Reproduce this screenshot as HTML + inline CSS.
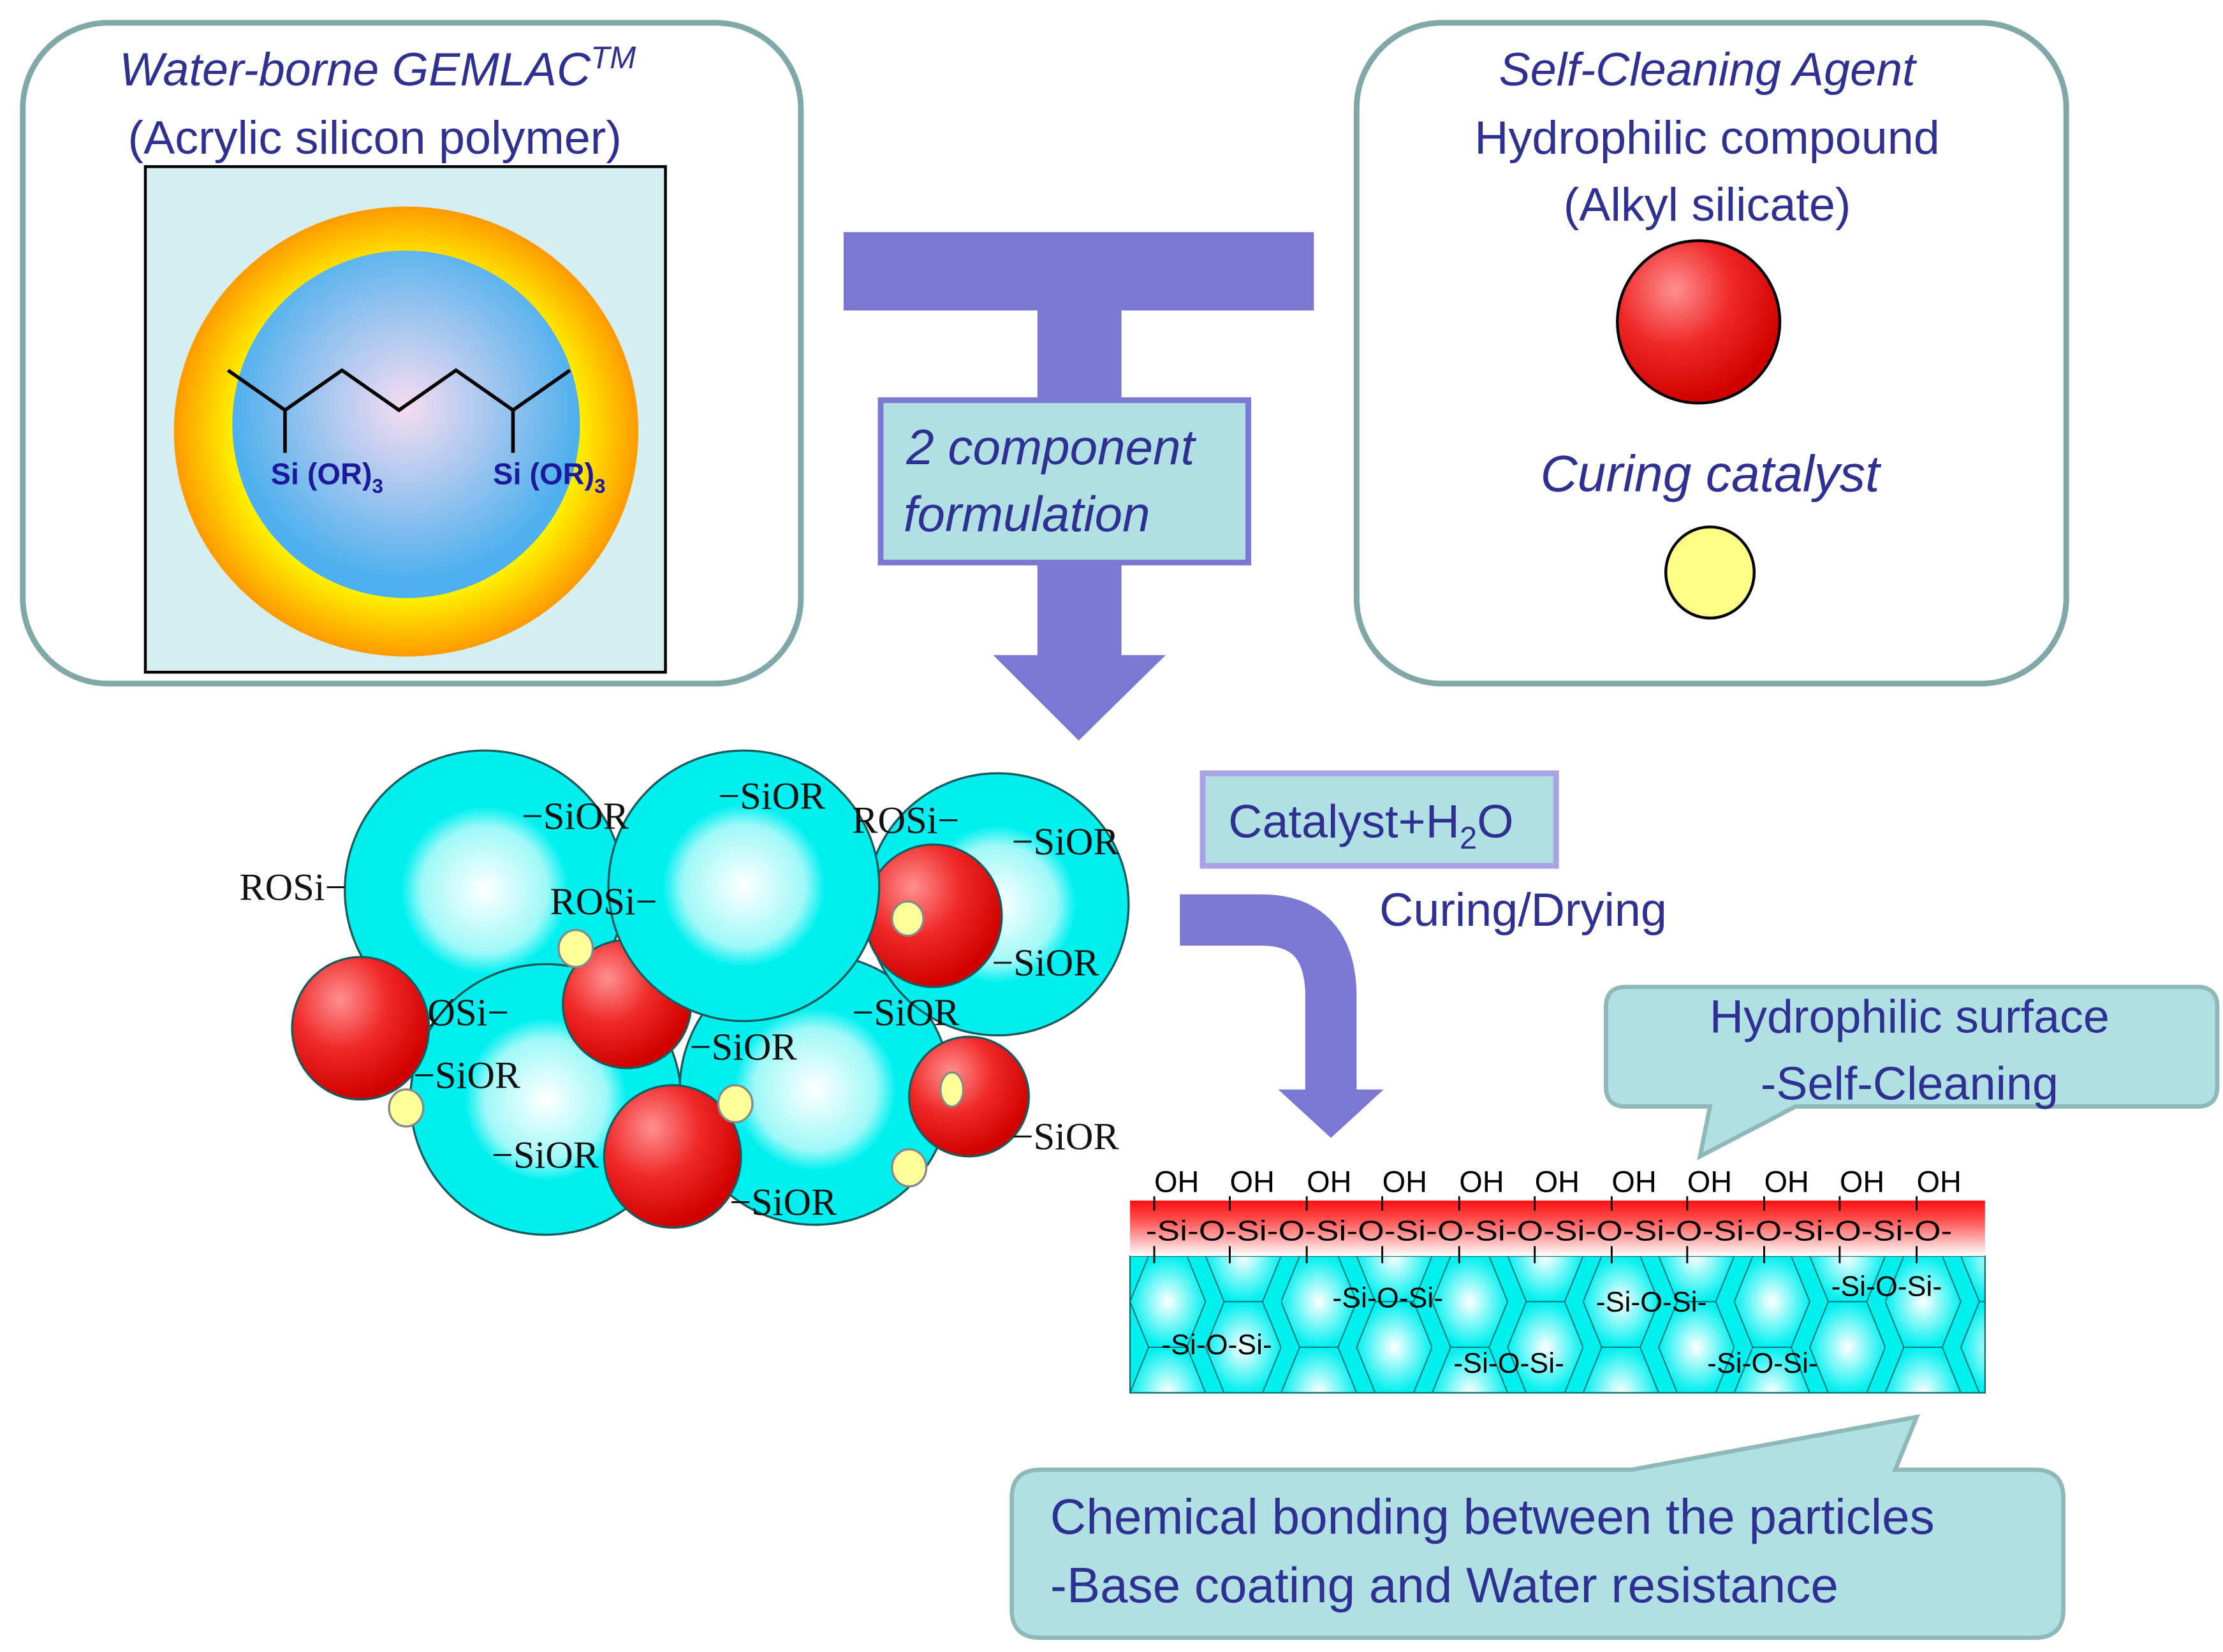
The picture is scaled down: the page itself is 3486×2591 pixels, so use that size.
<!DOCTYPE html>
<html><head><meta charset="utf-8"><style>html,body{margin:0;padding:0;background:#fff}svg{display:block}</style></head>
<body>
<svg width="3486" height="2591" viewBox="0 0 1560 1160" preserveAspectRatio="none" xmlns="http://www.w3.org/2000/svg">
<defs>
<radialGradient id="og" cx="50%" cy="50%" r="50%"><stop offset="0.7" stop-color="#ffff00"/><stop offset="1" stop-color="#ff9a00"/></radialGradient>
<radialGradient id="bg" cx="50%" cy="45%" r="50%"><stop offset="0" stop-color="#f6dcf0"/><stop offset="1" stop-color="#4eb0ee"/></radialGradient>
<radialGradient id="rg" cx="35%" cy="30%" r="70%"><stop offset="0" stop-color="#ff9090"/><stop offset="0.5" stop-color="#f02828"/><stop offset="1" stop-color="#d00000"/></radialGradient>
<radialGradient id="cg" cx="50%" cy="50%" r="50%"><stop offset="0" stop-color="#ffffff"/><stop offset="0.45" stop-color="#9ff8f8"/><stop offset="0.6" stop-color="#00f0f0"/><stop offset="1" stop-color="#00eeee"/></radialGradient>
<radialGradient id="hg" cx="50%" cy="50%" r="50%"><stop offset="0" stop-color="#ffffff"/><stop offset="1" stop-color="#00f0f0"/></radialGradient>
<linearGradient id="redband" x1="0" y1="0" x2="0" y2="1"><stop offset="0" stop-color="#ff1010"/><stop offset="0.35" stop-color="#ff5050"/><stop offset="1" stop-color="#ffffff"/></linearGradient>
<pattern id="hex" x="793" y="882" width="106" height="64" patternUnits="userSpaceOnUse">
<rect width="106" height="64" fill="#00f0f0"/>
<polygon points="13,0 40,0 53,32 40,64 13,64 0,32" fill="url(#hg)" stroke="#0a6a6a" stroke-width="0.8"/>
<polygon points="66,-32 93,-32 106,0 93,32 66,32 53,0" fill="url(#hg)" stroke="#0a6a6a" stroke-width="0.8"/>
<polygon points="66,32 93,32 106,64 93,96 66,96 53,64" fill="url(#hg)" stroke="#0a6a6a" stroke-width="0.8"/>
</pattern>
</defs>
<g font-family="Liberation Sans, DejaVu Sans, sans-serif" fill="#2e3192">
<rect x="16" y="16" width="546" height="464" rx="60" fill="#fff" stroke="#80a8a8" stroke-width="4"/>
<text x="265" y="60" text-anchor="middle" font-size="33" font-style="italic">Water-borne GEMLAC<tspan font-size="22" dy="-12">TM</tspan></text>
<text x="263" y="108" text-anchor="middle" font-size="33">(Acrylic silicon polymer)</text>
<rect x="102" y="117" width="365" height="355" fill="#d5eef0" stroke="#000" stroke-width="2"/>
<ellipse cx="285" cy="303" rx="163" ry="158" fill="url(#og)"/>
<ellipse cx="285" cy="298" rx="122" ry="122" fill="url(#bg)"/>
<polyline points="160,260 200,288 240,260 280,288 320,260 360,288 400,260" fill="none" stroke="#000" stroke-width="2.5"/>
<line x1="200" y1="288" x2="200" y2="318" stroke="#000" stroke-width="2.5"/>
<line x1="360" y1="288" x2="360" y2="318" stroke="#000" stroke-width="2.5"/>
<text x="190" y="340" font-size="21" font-weight="bold" fill="#1a1a9a">Si (OR)<tspan font-size="14" dy="6">3</tspan></text>
<text x="346" y="340" font-size="21" font-weight="bold" fill="#1a1a9a">Si (OR)<tspan font-size="14" dy="6">3</tspan></text>
<rect x="952" y="16" width="498" height="464" rx="60" fill="#fff" stroke="#80a8a8" stroke-width="4"/>
<text x="1198" y="60" text-anchor="middle" font-size="33" font-style="italic">Self-Cleaning Agent</text>
<text x="1198" y="108" text-anchor="middle" font-size="33">Hydrophilic compound</text>
<text x="1198" y="155" text-anchor="middle" font-size="33">(Alkyl silicate)</text>
<circle cx="1192" cy="226" r="57" fill="url(#rg)" stroke="#000" stroke-width="2"/>
<text x="1200" y="345" text-anchor="middle" font-size="36" font-style="italic">Curing catalyst</text>
<ellipse cx="1200" cy="402" rx="31" ry="32" fill="#ffff88" stroke="#000" stroke-width="2"/>
<rect x="592" y="163" width="330" height="55" fill="#7b78d4"/>
<rect x="728" y="218" width="59" height="244" fill="#7b78d4"/>
<polygon points="697,460 818,460 757,520" fill="#7b78d4"/>
<rect x="618" y="281" width="258" height="114" fill="#b0e0e3" stroke="#7b78d4" stroke-width="4"/>
<text x="636" y="326" font-size="35" font-style="italic">2 component</text>
<text x="634" y="373" font-size="35" font-style="italic">formulation</text>
<rect x="844" y="543" width="248" height="65" fill="#b0e0e3" stroke="#a8a3e5" stroke-width="4"/>
<text x="862" y="588" font-size="33">Catalyst+H<tspan font-size="22" dy="8">2</tspan><tspan dy="-8">O</tspan></text>
<text x="968" y="650" font-size="33">Curing/Drying</text>
<path d="M828,646 L885,646 Q934,646 934,700 L934,768" fill="none" stroke="#7b78d4" stroke-width="36"/>
<polygon points="897,765 971,765 934,799" fill="#7b78d4"/>
<g stroke="#1a5a5a" stroke-width="1.5">
<circle cx="340" cy="625" r="98" fill="url(#cg)"/>
<circle cx="383" cy="772" r="95" fill="url(#cg)"/>
<circle cx="440" cy="705" r="45" fill="url(#rg)"/>
<circle cx="572" cy="765" r="95" fill="url(#cg)"/>
<circle cx="680" cy="770" r="42" fill="url(#rg)"/>
<circle cx="700" cy="635" r="92" fill="url(#cg)"/>
<ellipse cx="655" cy="643" rx="48" ry="50" fill="url(#rg)"/>
<circle cx="522" cy="622" r="95" fill="url(#cg)"/>
<ellipse cx="253" cy="722" rx="48" ry="50" fill="url(#rg)"/>
<ellipse cx="472" cy="812" rx="48" ry="50" fill="url(#rg)"/>
<g fill="#ffff99" stroke="#888">
<ellipse cx="404" cy="666" rx="12" ry="13"/>
<ellipse cx="285" cy="778" rx="12" ry="13"/>
<ellipse cx="516" cy="775" rx="12" ry="13"/>
<ellipse cx="638" cy="820" rx="12" ry="13"/>
<ellipse cx="637" cy="645" rx="11" ry="12"/>
<ellipse cx="668" cy="765" rx="8" ry="12"/>
</g>
</g>
<g font-family="Liberation Serif, serif" font-size="27" fill="#111">
<text x="366" y="582">−SiOR</text>
<text x="504" y="568">−SiOR</text>
<text x="598" y="585">ROSi−</text>
<text x="710" y="600">−SiOR</text>
<text x="168" y="632">ROSi−</text>
<text x="386" y="642">ROSi−</text>
<text x="696" y="685">−SiOR</text>
<text x="300" y="720">ØSi−</text>
<text x="598" y="720">−SiOR</text>
<text x="484" y="744">−SiOR</text>
<text x="290" y="764">−SiOR</text>
<text x="345" y="820">−SiOR</text>
<text x="710" y="807">−SiOR</text>
<text x="512" y="853">−SiOR</text>
</g>
<rect x="793" y="882" width="600" height="96" fill="url(#hex)" stroke="#0a6a6a" stroke-width="1"/>
<rect x="793" y="843" width="600" height="39" fill="url(#redband)"/>
<g stroke="#000" stroke-width="1.3">
<path d="M810,850v-10 M863,850v-10 M917,850v-10 M970,850v-10 M1024,850v-10 M1077,850v-10 M1131,850v-10 M1184,850v-10 M1238,850v-10 M1291,850v-10 M1345,850v-10"/>
<path d="M810,875v12 M863,875v12 M917,875v12 M970,875v12 M1024,875v12 M1077,875v12 M1131,875v12 M1184,875v12 M1238,875v12 M1291,875v12 M1345,875v12"/>
</g>
<g font-size="21" fill="#000" font-family="Liberation Sans, sans-serif">
<text x="810" y="837">OH</text><text x="863" y="837">OH</text><text x="917" y="837">OH</text><text x="970" y="837">OH</text><text x="1024" y="837">OH</text><text x="1077" y="837">OH</text><text x="1131" y="837">OH</text><text x="1184" y="837">OH</text><text x="1238" y="837">OH</text><text x="1291" y="837">OH</text><text x="1345" y="837">OH</text>
<text x="804" y="871" font-size="20" textLength="566" lengthAdjust="spacingAndGlyphs">-Si-O-Si-O-Si-O-Si-O-Si-O-Si-O-Si-O-Si-O-Si-O-Si-O-</text>
<text x="935" y="918" font-size="20">-Si-O-Si-</text>
<text x="1120" y="921" font-size="20">-Si-O-Si-</text>
<text x="1285" y="910" font-size="20">-Si-O-Si-</text>
<text x="815" y="951" font-size="20">-Si-O-Si-</text>
<text x="1020" y="964" font-size="20">-Si-O-Si-</text>
<text x="1198" y="964" font-size="20">-Si-O-Si-</text>
</g>
<path d="M1141,693 H1542 Q1556,693 1556,707 V763 Q1556,777 1542,777 H1260 L1193,812 L1200,777 H1141 Q1127,777 1127,763 V707 Q1127,693 1141,693 Z" fill="#b0e0e3" stroke="#8fb8b8" stroke-width="3"/>
<text x="1340" y="725" text-anchor="middle" font-size="33">Hydrophilic surface</text>
<text x="1340" y="772" text-anchor="middle" font-size="33">-Self-Cleaning</text>
<path d="M730,1032 H1145 L1345,995 L1330,1032 H1428 Q1448,1032 1448,1052 V1130 Q1448,1150 1428,1150 H730 Q710,1150 710,1130 V1052 Q710,1032 730,1032 Z" fill="#b0e0e3" stroke="#8fb8b8" stroke-width="3"/>
<text x="737" y="1077" font-size="35">Chemical bonding between the particles</text>
<text x="737" y="1125" font-size="35">-Base coating and Water resistance</text>
</g>
</svg>
</body></html>
